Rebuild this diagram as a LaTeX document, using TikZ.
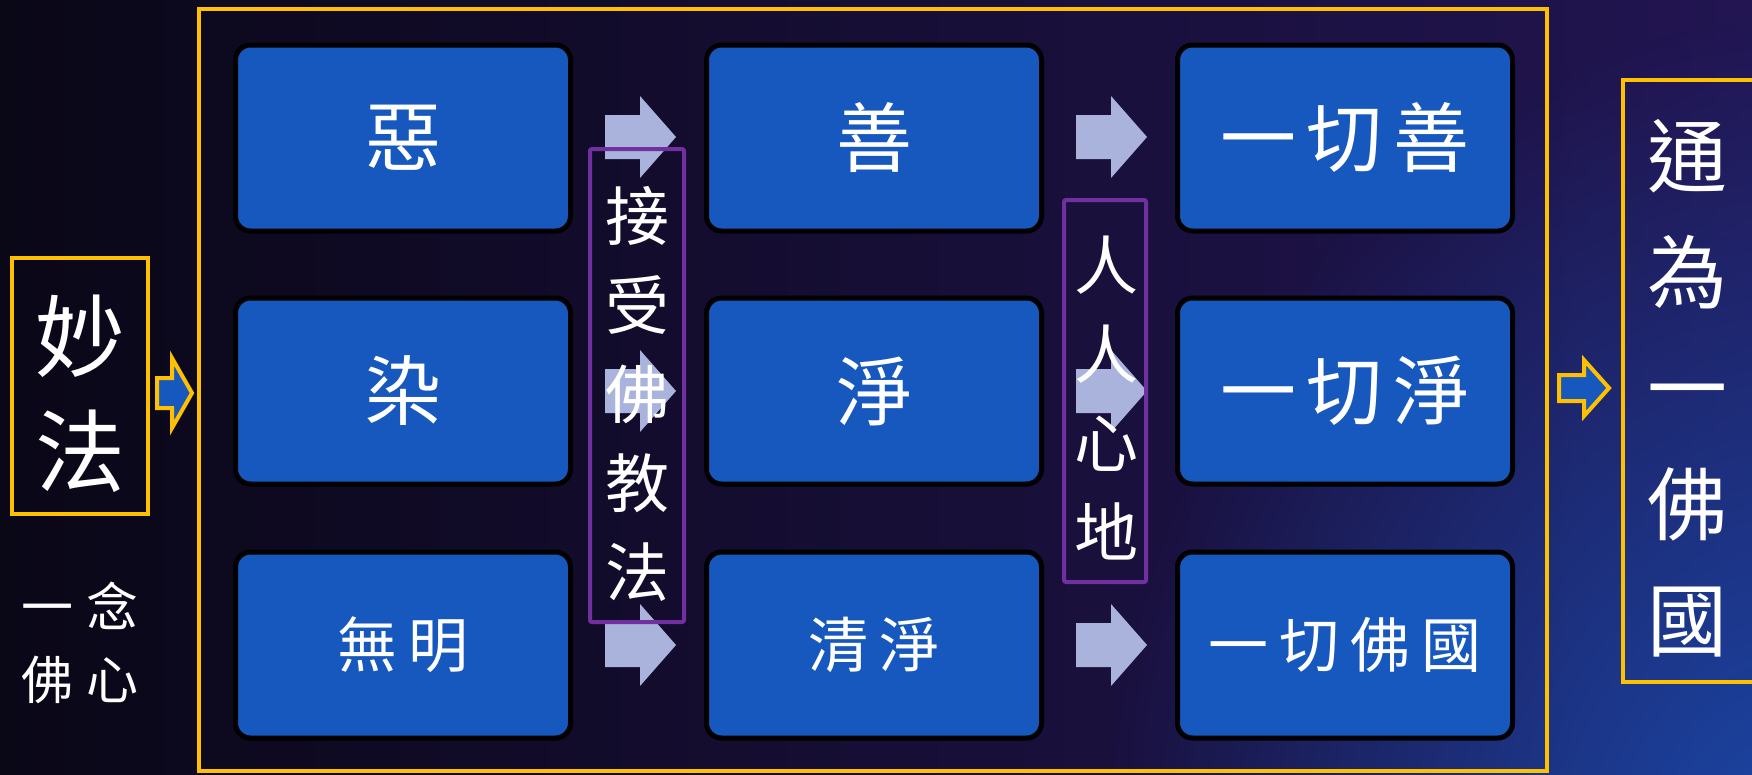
\documentclass[tikz,border=0pt]{standalone}
\usepackage{fontspec}
\newfontfamily\cjk{Noto Sans CJK TC}
\usetikzlibrary{fadings}
\definecolor{gold}{HTML}{FFC000}
\definecolor{boxblue}{HTML}{1658BD}
\definecolor{lav}{HTML}{A9B3DC}
\definecolor{purp}{HTML}{7030A0}
\definecolor{bgdark}{HTML}{0A0717}
\definecolor{bgpurp}{HTML}{221552}
\definecolor{bgblue}{HTML}{1A48A8}
\tikzfading[name=glow, inner color=transparent!0, outer color=transparent!100]
\newcommand\bigarr[2]{\fill[flowarrow] (#1,#2-22) -- (#1+35,#2-22) -- (#1+35,#2-41) -- (#1+71,#2) -- (#1+35,#2+41) -- (#1+35,#2+22) -- (#1,#2+22) -- cycle;}
\newcommand\gp{\hspace{11pt}}
\begin{document}
\begin{tikzpicture}[x=1pt,y=-1pt,
  bbox/.style={rounded corners=15pt, fill=boxblue, draw=black, line width=5pt, minimum width=335pt, minimum height=186pt, text=white, inner sep=0pt},
  bigtxt/.style={font=\cjk\fontsize{76}{80}\selectfont},
  midtxt/.style={font=\cjk\fontsize{60}{64}\selectfont},
  flowarrow/.style={fill=lav},
  goldframe/.style={draw=gold, line width=4pt},
  purpframe/.style={draw=purp, line width=4pt, rounded corners=2pt},
  smallarrow/.style={draw=gold, line width=4pt, fill=boxblue, line join=miter},
  vtext/.style={text=white, align=center, inner sep=0pt}
]
\useasboundingbox (0,0) rectangle (1752,774);
% background
\shade[left color=bgdark, right color=bgpurp] (0,0) rectangle (1752,774);
\begin{scope}
  \clip (0,0) rectangle (1752,774);
  \fill[bgblue, path fading=glow] (1800,870) ellipse [x radius=700pt, y radius=850pt];
\end{scope}

% big frame
\draw[goldframe] (199,9) rectangle (1547,771);

% blue boxes
\node[bbox, bigtxt] (e)  at (403,138) {惡};
\node[bbox, bigtxt] (r)  at (403,391) {染};
\node[bbox, midtxt] (w)  at (403,645) {無\gp 明};
\node[bbox, bigtxt] (s)  at (874,138) {善};
\node[bbox, bigtxt] (j)  at (874,391) {淨};
\node[bbox, midtxt] (qj) at (874,645) {清\gp 淨};
\node[bbox, bigtxt] (as) at (1345,138) {一\gp 切\gp 善};
\node[bbox, bigtxt] (aj) at (1345,391) {一\gp 切\gp 淨};
\node[bbox, midtxt] (af) at (1345,645) {一\gp 切\gp 佛\gp 國};

% arrows between columns
\bigarr{605}{137}
\bigarr{605}{391}
\bigarr{605}{645}
\bigarr{1076}{137}
\bigarr{1076}{391}
\bigarr{1076}{645}

% purple frames with vertical text
\draw[purpframe] (590,149) rectangle (684,622);
\node[vtext, font=\cjk\fontsize{64}{89}\selectfont] (jsf) at (637,394) {接\\受\\佛\\教\\法};
\draw[purpframe] (1064,200) rectangle (1146,582);
\node[vtext, font=\cjk\fontsize{64}{89}\selectfont] (rrxd) at (1106,398) {人\\人\\心\\地};

% left part
\draw[goldframe] (12,258) rectangle (148,514);
\node[vtext, font=\cjk\fontsize{90}{115}\selectfont] (mf) at (80,394) {妙\\法};
\node[vtext, font=\cjk\fontsize{52}{73}\selectfont] (yn) at (80,643) {一\hspace{14pt}念\\佛\hspace{14pt}心};
\draw[smallarrow] (157,378) -- (172,378) -- (172,358) -- (192,393) -- (172,428) -- (172,408) -- (157,408) -- cycle;

% right part
\draw[smallarrow] (1559,375) -- (1584,375) -- (1584,360) -- (1609,388) -- (1584,416) -- (1584,401) -- (1559,401) -- cycle;
\draw[goldframe] (1770,80) -- (1623,80) -- (1623,682) -- (1770,682);
\node[vtext, font=\cjk\fontsize{80}{116}\selectfont] (tw) at (1687,388) {通\\為\\一\\佛\\國};
\end{tikzpicture}
\end{document}
